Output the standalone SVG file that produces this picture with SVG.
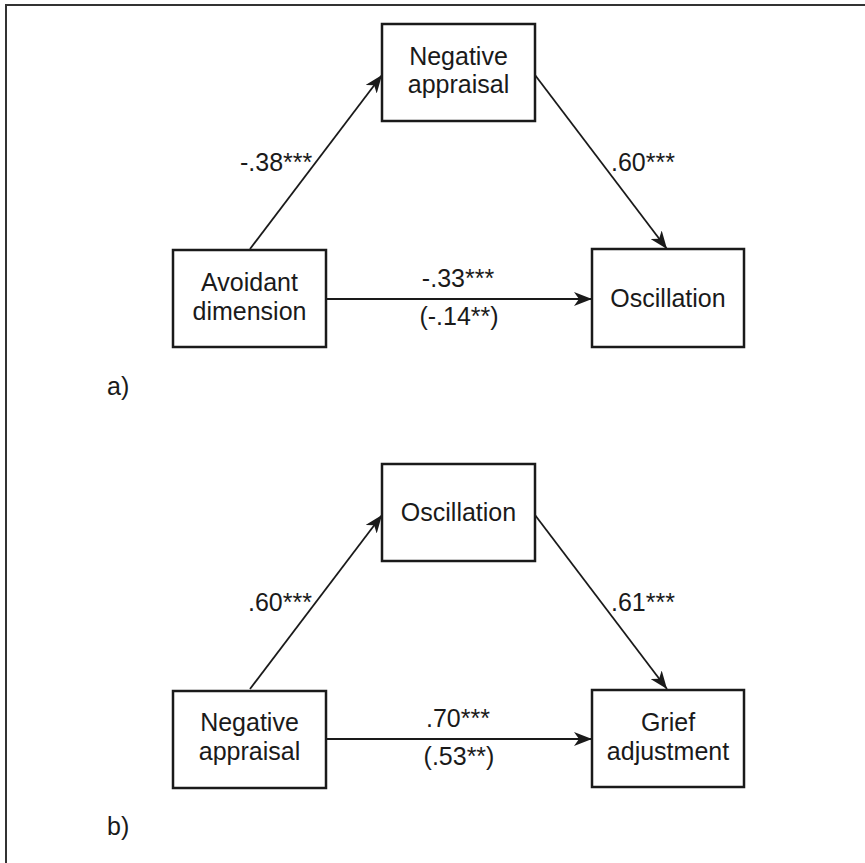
<svg xmlns="http://www.w3.org/2000/svg" width="865" height="863" viewBox="0 0 865 863">
<defs>
<style>
.box{fill:#fff;stroke:#1a1a1a;stroke-width:2.5}
.t{font-family:"Liberation Sans",Arial,sans-serif;font-size:25px;fill:#1a1a1a}
.c{text-anchor:middle}
.ln{stroke:#1a1a1a;stroke-width:1.8;fill:none}
</style>
<marker id="ah" markerUnits="userSpaceOnUse" markerWidth="20" markerHeight="14" refX="18" refY="7" orient="auto">
<path d="M0,0 L18,7 L0,14 L5,7 Z" fill="#1a1a1a"/>
</marker>
</defs>
<g id="frame">
<path d="M6,863 L6,5 L865,5" fill="none" stroke="#333" stroke-width="2"/>
</g>
<g id="connectors">
<line class="ln" x1="250" y1="249" x2="382" y2="75" marker-end="url(#ah)"/>
<line class="ln" x1="535" y1="75" x2="667" y2="249" marker-end="url(#ah)"/>
<line class="ln" x1="326" y1="299" x2="592" y2="299" marker-end="url(#ah)"/>
<line class="ln" x1="250" y1="689" x2="382" y2="515" marker-end="url(#ah)"/>
<line class="ln" x1="535" y1="515" x2="667" y2="689" marker-end="url(#ah)"/>
<line class="ln" x1="326" y1="739" x2="592" y2="739" marker-end="url(#ah)"/>
</g>
<g id="labels">
<text class="t" x="240" y="171">-.38***</text>
<text class="t" x="611" y="171">.60***</text>
<text class="t c" x="458" y="287">-.33***</text>
<text class="t c" x="459" y="325">(-.14**)</text>
<text class="t" x="107" y="395">a)</text>
<text class="t" x="248" y="611">.60***</text>
<text class="t" x="611" y="611">.61***</text>
<text class="t c" x="458" y="727">.70***</text>
<text class="t c" x="459" y="765">(.53**)</text>
<text class="t" x="107" y="835">b)</text>
</g>
<g id="a-negative-appraisal">
<rect class="box" x="382" y="24" width="153" height="97"/>
<text class="t c" x="458.5" y="65">Negative</text>
<text class="t c" x="458.5" y="93">appraisal</text>
</g>
<g id="a-avoidant-dimension">
<rect class="box" x="173" y="250" width="153" height="97"/>
<text class="t c" x="249.5" y="291">Avoidant</text>
<text class="t c" x="249.5" y="320">dimension</text>
</g>
<g id="a-oscillation">
<rect class="box" x="592" y="249" width="152" height="98"/>
<text class="t c" x="668" y="307">Oscillation</text>
</g>
<g id="b-oscillation">
<rect class="box" x="382" y="464" width="153" height="97"/>
<text class="t c" x="458.5" y="521">Oscillation</text>
</g>
<g id="b-negative-appraisal">
<rect class="box" x="173" y="691" width="153" height="97"/>
<text class="t c" x="249.5" y="731">Negative</text>
<text class="t c" x="249.5" y="760">appraisal</text>
</g>
<g id="b-grief-adjustment">
<rect class="box" x="592" y="690" width="152" height="97"/>
<text class="t c" x="668" y="731">Grief</text>
<text class="t c" x="668" y="760">adjustment</text>
</g>
</svg>
